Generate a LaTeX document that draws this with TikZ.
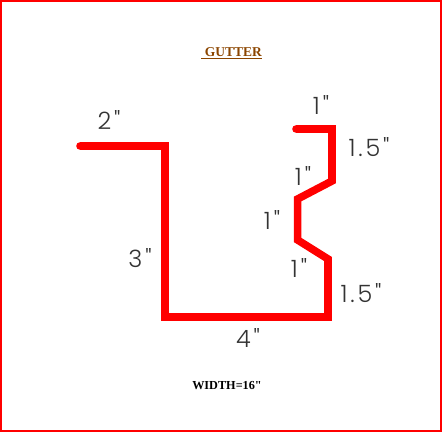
\documentclass[tikz,border=0pt]{standalone}
\usepackage{xcolor}
\usepackage{fontspec}
\newfontfamily\serifFont{Liberation Serif}
\newfontfamily\dimFont[LetterSpace=12]{Poppins Light}
\definecolor{gutterBrown}{HTML}{8B4500}
\begin{document}
\begin{tikzpicture}[
	gutterLine/.style={
		draw=red,
		line width=5.4pt,
		line join=miter,
		line cap=round
	},
	frameLine/.style={
		draw=red,
		line width=1.42pt
	},
	dimLabel/.style={
		font=\dimFont\fontsize{17}{17}\selectfont,
		text=black!80,
		inner sep=0pt
	},
	titleLabel/.style={
		font=\serifFont\bfseries\fontsize{9.6}{12}\selectfont,
		text=gutterBrown,
		inner sep=0pt
	},
	widthLabel/.style={
		font=\serifFont\bfseries\fontsize{8.7}{10}\selectfont,
		inner sep=0pt
	}
	]
	\useasboundingbox (0,0) rectangle (11.05,10.8);
	
	% Outer frame
	\draw[frameLine] (0.025,0.025) rectangle (11.025,10.775);
	
	% Gutter profile
	\draw[gutterLine]
	(2.00,7.15)--(4.125,7.15)--(4.125,2.875)--(8.20,2.875)--(8.20,4.325)--
	(7.44,4.80)--(7.44,5.825)--(8.30,6.275)--(8.30,7.575)--(7.40,7.575);
	
	% Title and width
	\node[titleLabel] (title) at (5.79,9.46) {\underline{\ GUTTER}};
	\node[widthLabel] (width) at (5.675,1.15) {WIDTH=16"};
	
	% Dimensions
	\node[dimLabel] (dimLip)    at (2.725,7.80) {2"};
	\node[dimLabel] (dimBack)   at (3.50,4.35) {3"};
	\node[dimLabel] (dimBase)   at (6.20,2.35) {4"};
	\node[dimLabel] (dimTop)    at (8.025,8.175) {1"};
	\node[dimLabel] (dimUpper)  at (9.225,7.125) {1.5"};
	\node[dimLabel] (dimSlopeA) at (7.575,6.40) {1"};
	\node[dimLabel] (dimInner)  at (6.80,5.30) {1"};
	\node[dimLabel] (dimSlopeB) at (7.475,4.10) {1"};
	\node[dimLabel] (dimLower)  at (9.025,3.475) {1.5"};
\end{tikzpicture}
\end{document}
